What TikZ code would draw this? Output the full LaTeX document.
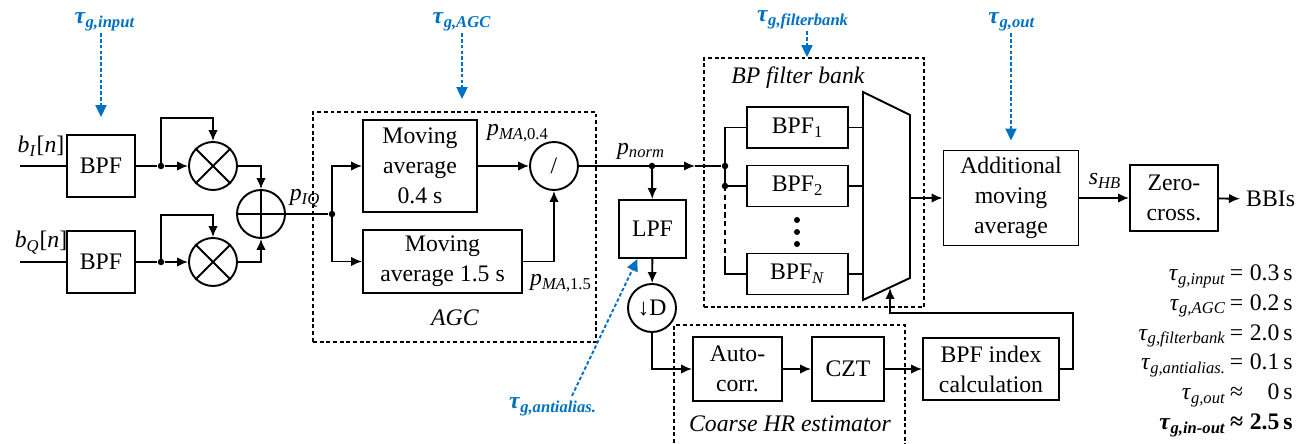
\documentclass[tikz,border=0pt]{standalone}
\usepackage{fontspec}
\newfontfamily\diagfont{Liberation Serif}
\usepackage{xcolor}
\usepackage{tikz}
\usetikzlibrary{arrows.meta,positioning}

\definecolor{taublue}{RGB}{0,112,192}
\newcommand{\isub}[2]{\textit{#1}\textsubscript{#2}}
\newcommand{\tg}[1]{\textbf{\textit{τ}}\textsubscript{\textbf{\textit{g,#1}}}}
\newcommand{\tgl}[1]{\textit{τ}\textsubscript{\textit{g,#1}}}

\begin{document}
\begin{tikzpicture}[
    x=0.2mm, y=-0.2mm,
    font=\diagfont\fontsize{13.5pt}{17pt}\selectfont,
    box/.style={draw, line width=1.1pt, align=center, inner sep=0pt},
    op/.style={draw, circle, line width=1.1pt, minimum size=9.6mm, inner sep=0pt},
    groupbox/.style={draw, line width=1pt, dash pattern=on 2.2pt off 1.6pt, inner sep=0pt},
    arr/.style={-{Latex[length=2.2mm,width=1.9mm]}, line width=1.1pt},
    wire/.style={line width=1.1pt},
    tauarr/.style={-{Triangle[length=2.4mm,width=2.2mm]}, taublue, line width=1.1pt,
    dash pattern=on 2pt off 1.3pt},
    taulabel/.style={text=taublue, inner sep=1pt},
    junc/.style={circle, fill, inner sep=0pt, minimum size=1.3mm}
]
\clip (0,0) rectangle (1310,444);

% dashed groups
\node[groupbox, minimum width=56.6mm, minimum height=46mm] (agc) at (454.5,227) {};
\node[groupbox, minimum width=44mm, minimum height=49.8mm] (fbank) at (814,182.5) {};
\node[groupbox, minimum width=46.2mm, minimum height=25mm] (coarse) at (789.5,387.5) {};
\node at (455,318) {\textit{AGC}};
\node at (798,78) {\textit{BP filter bank}};
\node at (790,424) {\textit{Coarse HR estimator}};

% I/Q inputs
\coordinate (ini) at (20,166);
\coordinate (inq) at (20,262);
\node[box, minimum width=13.6mm, minimum height=12.4mm] (bpfi) at (101,166) {BPF};
\node[box, minimum width=13.6mm, minimum height=12.4mm] (bpfq) at (101,262) {BPF};
\node (bi) at (41,146) {\textit{b}\textsubscript{\textit{I}}[\textit{n}]};
\node (bq) at (41,243) {\textit{b}\textsubscript{\textit{Q}}[\textit{n}]};
\draw[wire] (ini) -- (bpfi);
\draw[wire] (inq) -- (bpfq);

% squaring and sum
\node[junc] (ji) at (161,166) {};
\node[junc] (jq) at (161,262) {};
\node[op] (multi) at (213,166) {};
\node[op] (multq) at (213,262) {};
\node[op] (adder) at (261,214) {};
\draw[wire] (multi.north west) -- (multi.south east) (multi.north east) -- (multi.south west);
\draw[wire] (multq.north west) -- (multq.south east) (multq.north east) -- (multq.south west);
\draw[wire] (adder.north) -- (adder.south) (adder.west) -- (adder.east);
\draw[wire] (bpfi) -- (ji);
\draw[wire] (bpfq) -- (jq);
\draw[arr] (ji) -- (multi);
\draw[arr] (jq) -- (multq);
\draw[arr] (ji.center) -- ++(0,-48) -| (multi.north);
\draw[arr] (jq.center) -- ++(0,-47) -| (multq.north);
\draw[arr] (multi) -| (adder);
\draw[arr] (multq) -| (adder);

% AGC
\node[junc] (jiq) at (332,214) {};
\node (piq) at (305,198) {\isub{p}{\textit{IQ}}};
\draw[wire] (adder) -- (jiq);
\node[box, minimum width=22.8mm, minimum height=18.4mm] (mashort) at (420,166)
    {Moving\\average\\0.4 s};
\node[box, minimum width=31.8mm, minimum height=12.6mm] (malong) at (442.5,261.5)
    {Moving\\average 1.5 s};
\node[op] (divider) at (554,166) {/};
\draw[arr] (jiq.center) |- (mashort);
\draw[arr] (jiq.center) |- (malong);
\draw[arr] (mashort) -- (divider);
\draw[arr] (malong) -| (divider);
\node (pma4) at (518,133) {\isub{p}{\textit{MA},0.4}};
\node (pma15) at (561,283) {\isub{p}{\textit{MA},1.5}};

% normalised signal
\coordinate (normtip) at (695,166);
\node[junc] (jlpf) at (652,166) {};
\node[junc] (jbus) at (725,166) {};
\node (pnorm) at (641,151) {\isub{p}{\textit{norm}}};
\draw[arr] (divider) -- (normtip);
\draw[wire] (normtip) -- (jbus);

% coarse HR branch
\node[box, minimum width=13.4mm, minimum height=11.6mm] (lpf) at (652.5,229) {LPF};
\node[op] (down) at (652,308) {↓D};
\node[box, minimum width=17.8mm, minimum height=12.8mm] (autocorr) at (737.5,369) {Auto-\\corr.};
\node[box, minimum width=14.4mm, minimum height=12.8mm] (czt) at (848,369) {CZT};
\node[box, minimum width=27.2mm, minimum height=12.4mm] (bpfidx) at (991,369) {BPF index\\calculation};
\draw[arr] (jlpf.center) -- (lpf);
\draw[arr] (lpf) -- (down);
\draw[arr] (down) |- (autocorr);
\draw[arr] (autocorr) -- (czt);
\draw[arr] (czt) -- (bpfidx);

% filter bank
\node[box, minimum width=20.2mm, minimum height=8.2mm] (bpf1) at (797.5,127.5) {BPF\textsubscript{1}};
\node[box, minimum width=20.2mm, minimum height=8.2mm] (bpf2) at (797.5,186) {BPF\textsubscript{2}};
\node[box, minimum width=20.2mm, minimum height=8.2mm] (bpfn) at (797.5,274) {BPF\textsubscript{\textit{N}}};
\foreach \yy in {220,232,244}
    \fill (797,\yy) circle (0.6mm);
\node[junc] (jb2) at (725,186) {};
\coordinate (busend) at (725,262);
\draw[wire] (jbus.center) |- (bpf1);
\draw[wire] (jbus.center) -- (jb2.center) -- (bpf2);
\draw[wire, dash pattern=on 3pt off 2pt] (jb2.center) -- (busend);
\draw[wire] (busend) |- (bpfn);

% selector
\coordinate (muxtl) at (863,92);
\coordinate (muxtr) at (910,115);
\coordinate (muxbr) at (910,278);
\coordinate (muxbl) at (863,300);
\coordinate (muxout) at (910,198);
\coordinate (muxsel) at (890,288);
\draw[wire, line join=miter] (muxtl) -- (muxtr) -- (muxbr) -- (muxbl) -- cycle;
\draw[wire] (bpf1) -- (bpf1 -| muxtl);
\draw[wire] (bpf2) -- (bpf2 -| muxtl);
\draw[wire] (bpfn) -- (bpfn -| muxtl);
\coordinate (fbcorner) at (1073,313);
\draw[arr] (bpfidx.east) -| (fbcorner) -| (muxsel);

% output
\node[box, minimum width=27mm, minimum height=19mm] (addma) at (1011,198)
    {Additional\\moving\\average};
\node[box, minimum width=17.6mm, minimum height=13.2mm] (zerocross) at (1174,198) {Zero-\\cross.};
\node[anchor=west] (bbis) at (1240,199) {BBIs};
\node (shb) at (1105,181) {\isub{s}{\textit{HB}}};
\draw[arr] (muxout) -- (addma);
\draw[arr] (addma) -- (zerocross);
\draw[arr] (zerocross) -- (bbis);

% group delays
\node[taulabel] (tauin) at (105,22) {\tg{input}};
\node[taulabel] (tauagc) at (462,22) {\tg{AGC}};
\node[taulabel] (taufb) at (803,20) {\tg{filterbank}};
\node[taulabel] (tauout) at (1012,22) {\tg{out}};
\node[taulabel] (tauaa) at (553,407) {\tg{antialias.}};
\draw[tauarr] (bpfi.north |- tauin.south) -- ([yshift=3.4mm]bpfi.north);
\draw[tauarr] (tauagc.south) -- ([yshift=2.4mm]tauagc.south |- agc.north);
\draw[tauarr] ([xshift=0.8mm]taufb.south) -- ([xshift=0.8mm]taufb.south |- fbank.north);
\draw[tauarr] (addma.north |- tauout.south) -- ([yshift=1.8mm]addma.north);
\draw[tauarr] ([xshift=3.8mm]tauaa.north) -- ([xshift=-3mm]lpf.south);

\node[anchor=east, inner sep=0pt] (delays) at (1293,349) {%
  \begin{tabular}{@{}r@{\,}c@{\;}r@{\,}l@{}}
  \tgl{input} & = & 0.3 & s\\
  \tgl{AGC} & = & 0.2 & s\\
  \tgl{filterbank} & = & 2.0 & s\\
  \tgl{antialias.} & = & 0.1 & s\\
  \tgl{out} & ≈ & 0 & s\\
  \tg{in-out} & \textbf{≈} & \textbf{2.5} & \textbf{s}
  \end{tabular}};
\end{tikzpicture}
\end{document}
